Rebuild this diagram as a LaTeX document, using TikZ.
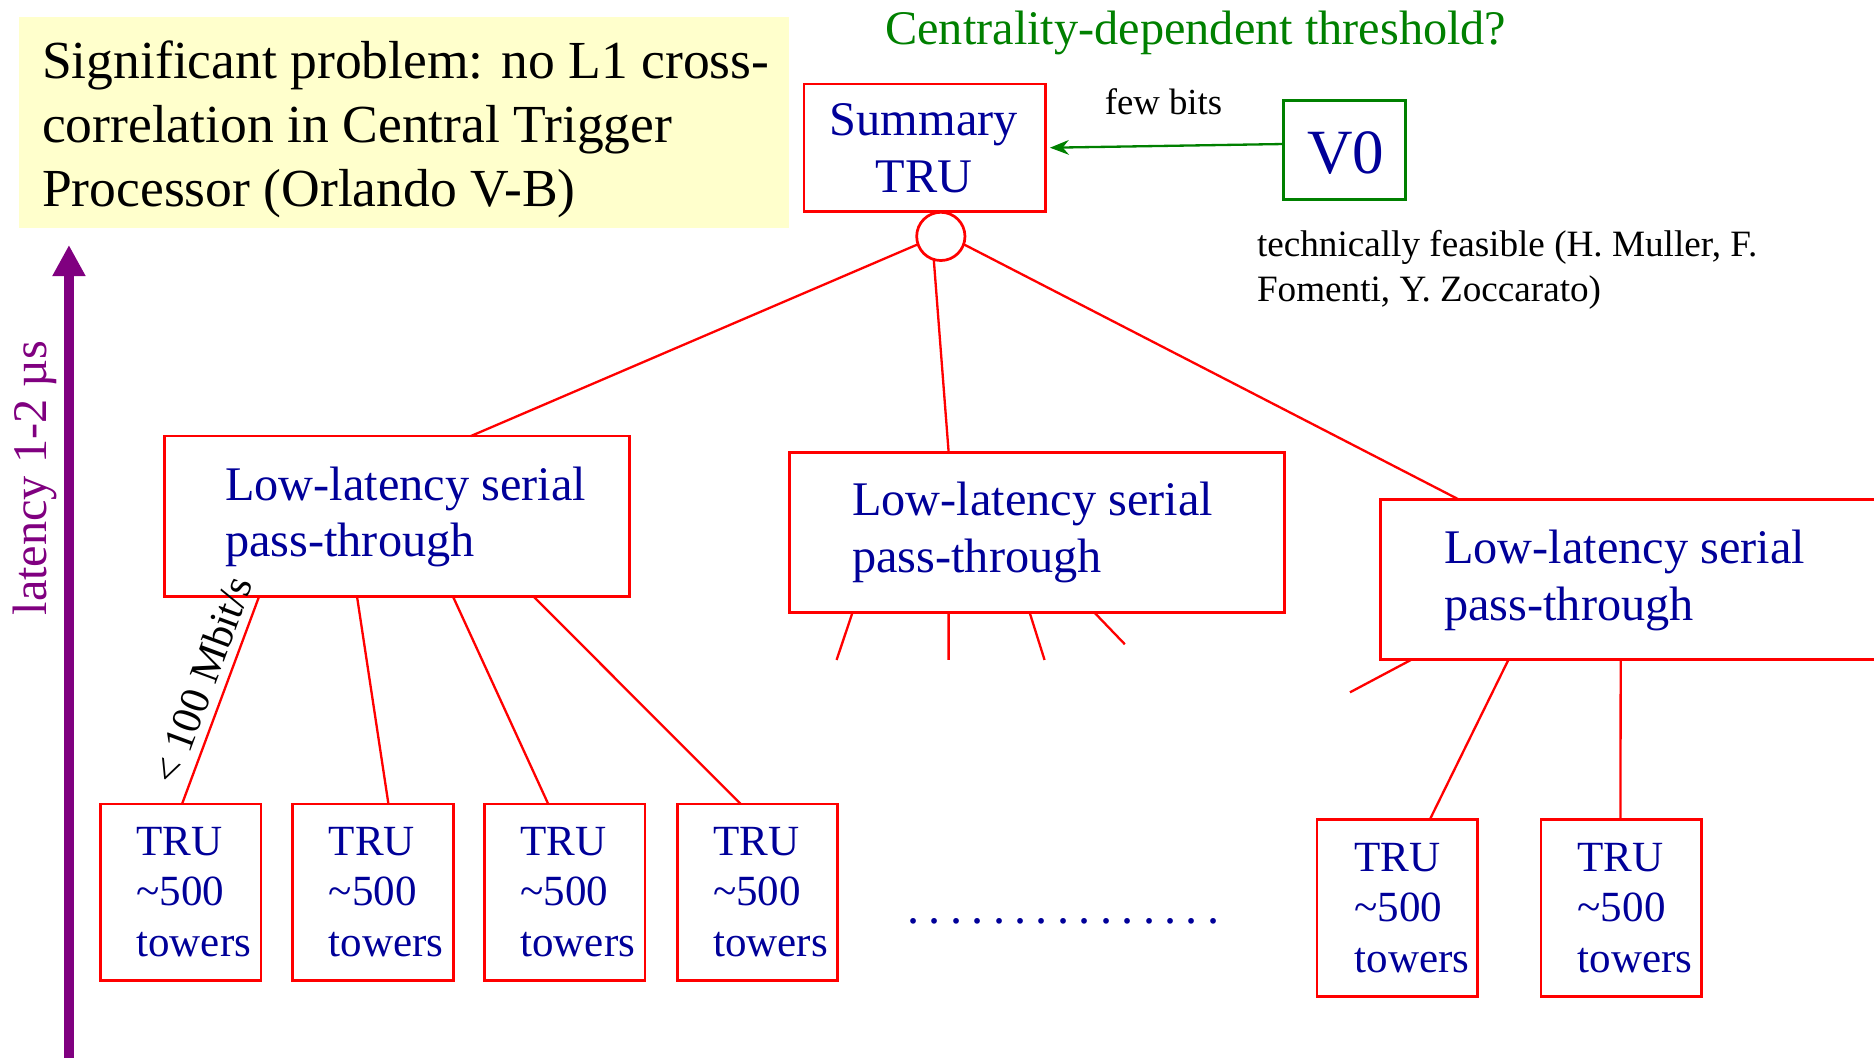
\documentclass[tikz,border=0pt]{standalone}
\usepackage{fontspec}
\setmainfont{Liberation Serif}
\usetikzlibrary{calc,arrows.meta}
\definecolor{navy}{RGB}{0,0,153}
\definecolor{dkgreen}{RGB}{0,128,0}
\definecolor{pred}{RGB}{255,0,0}
\definecolor{ppurple}{RGB}{128,0,128}
\definecolor{pyellow}{RGB}{255,255,204}
\newcommand{\mytl}[1]{\begin{tabular}[t]{@{}l@{}}#1\end{tabular}}
\newcommand{\mytc}[1]{\begin{tabular}[t]{@{}c@{}}#1\end{tabular}}
\tikzset{
  redbox/.style={draw=pred, line width=1.4pt, rectangle, inner sep=0pt, outer sep=0pt},
  trubox/.style={redbox, minimum width=2.688cm, minimum height=2.956cm},
  llbox/.style={redbox, minimum height=2.68cm},
  conn/.style={draw=pred, line width=1.1pt},
  bluetxt/.style={text=navy, inner sep=0pt, anchor=base west},
  lltxt/.style={bluetxt, font=\fontsize{23}{27}\selectfont},
  trutxt/.style={bluetxt, font=\fontsize{20.5}{24.2}\selectfont},
}
\begin{document}
\begin{tikzpicture}[x=0.02cm, y=-0.02cm]
\useasboundingbox (0,0) rectangle (1568,885);

% note box
\node[fill=pyellow, inner sep=0pt, minimum width=12.876cm, minimum height=3.53cm] (note) at (338.1,102.75) {};
\node[anchor=base west, inner sep=0pt, font=\fontsize{25.5}{30.5}\selectfont] (notetxt) at (34.9,65.5)
  {\mytl{Significant problem: no L1 cross-\\correlation in Central Trigger\\Processor (Orlando V-B)}};

% title
\node[anchor=base, inner sep=0pt, text=dkgreen, font=\fontsize{23}{27}\selectfont] (title) at (1000.5,37) {Centrality-dependent threshold?};

% summary TRU
\node[redbox, minimum width=4.046cm, minimum height=2.134cm] (sum) at (773.85,123.65) {};
\node[text=navy, inner sep=0pt, anchor=base, font=\fontsize{23}{27.3}\selectfont] (sumtxt) at (773,113) {\mytc{Summary\\TRU}};
\node[draw=pred, line width=1.3pt, circle, minimum size=0.808cm, inner sep=0pt, outer sep=0pt, fill=white] (hub) at (787.2,197.8) {};

% V0
\node[draw=dkgreen, line width=1.3pt, rectangle, minimum width=2.04cm, minimum height=1.66cm, inner sep=0pt, outer sep=0pt] (v0) at (1125,125.5) {};
\node[text=navy, inner sep=0pt, anchor=base, font=\fontsize{30}{36}\selectfont] (v0txt) at (1126,145) {V0};
\draw[draw=dkgreen, line width=1.1pt, -{Stealth[length=9pt,width=7pt]}, shorten >=2pt] ($(v0.west)+(0,-5)$) -- (sum.east);
\node[anchor=base, inner sep=0pt, font=\fontsize{17.5}{21}\selectfont] (few) at (973.5,96) {few bits};
\node[anchor=base west, inner sep=0pt, font=\fontsize{17.7}{21.4}\selectfont] (feas) at (1051.4,214.8)
  {\mytl{technically feasible (H. Muller, F.\\Fomenti, Y. Zoccarato)}};

% latency arrow
\coordinate (latbot) at (57.7,895);
\coordinate (lattop) at (57.7,205);
\draw[draw=ppurple, line width=4.8pt, -{Triangle[length=14.8pt,width=14.8pt]}] (latbot) -- (lattop);
\node[rotate=90, anchor=base, inner sep=0pt, text=ppurple, font=\fontsize{23}{27}\selectfont] (lat) at (39,400) {latency 1-2 µs};

% low-latency boxes
\node[llbox, minimum width=7.784cm, minimum height=2.688cm] (ll1) at (332.1,432) {};
\node[lltxt] (ll1txt) at (188,418.4) {\mytl{Low-latency serial\\pass-through}};
\node[llbox, minimum width=8.29cm, minimum height=2.676cm] (ll2) at (867.75,445.4) {};
\node[lltxt] (ll2txt) at (712.7,431.7) {\mytl{Low-latency serial\\pass-through}};
\node[llbox, minimum width=8.334cm, minimum height=2.678cm] (ll3) at (1363.65,485.25) {};
\node[lltxt] (ll3txt) at (1208,471.9) {\mytl{Low-latency serial\\pass-through}};

% hub connectors
\draw[conn] (hub.199) -- ($(ll1.north west)+(256.5,0)$);
\draw[conn] (hub.253) -- ($(ll2.north west)+(133.2,0)$);
\draw[conn] (hub.341) -- ($(ll3.north west)+(66,0)$);

% TRU boxes
\node[trubox] (t1) at (151.2,746.6) {};
\node[trubox] (t2) at (312,746.6) {};
\node[trubox] (t3) at (472.5,746.6) {};
\node[trubox] (t4) at (633.75,746.6) {};
\node[trubox, minimum height=2.96cm] (t5) at (1169.1,760) {};
\node[trubox, minimum height=2.96cm] (t6) at (1356.55,760) {};
\node[trutxt] (t1txt) at (113.8,715.4) {\mytl{TRU\\\textasciitilde500\\towers}};
\node[trutxt] (t2txt) at (274.9,715.4) {\mytl{TRU\\\textasciitilde500\\towers}};
\node[trutxt] (t3txt) at (435,715.4) {\mytl{TRU\\\textasciitilde500\\towers}};
\node[trutxt] (t4txt) at (596.3,715.4) {\mytl{TRU\\\textasciitilde500\\towers}};
\node[trutxt] (t5txt) at (1133,728.8) {\mytl{TRU\\\textasciitilde500\\towers}};
\node[trutxt] (t6txt) at (1319.7,728.8) {\mytl{TRU\\\textasciitilde500\\towers}};

% LL1 to TRUs
\draw[conn] ($(ll1.south west)+(79.2,0)$) -- node[sloped, pos=0.443, anchor=south, inner xsep=0pt, inner ysep=4pt, font=\fontsize{20}{24}\selectfont] (rate) {< 100 Mbit/s} ($(t1.north west)+(68.3,0)$);
\draw[conn] ($(ll1.south west)+(161.2,0)$) -- ($(t2.north west)+(80.2,0)$);
\draw[conn] ($(ll1.south west)+(241.5,0)$) -- ($(t3.north west)+(53.4,0)$);
\draw[conn] ($(ll1.south west)+(308.9,0)$) -- ($(t4.north west)+(53.2,0)$);

% LL2 stubs
\coordinate (s1) at (700,552.2);
\coordinate (s2) at (793.7,552.2);
\coordinate (s3) at (874,552.2);
\coordinate (s4) at (941.2,539.1);
\draw[conn] ($(ll2.south west)+(52.8,0)$) -- (s1);
\draw[conn] ($(ll2.south west)+(133.2,0)$) -- (s2);
\draw[conn] ($(ll2.south west)+(200.9,0)$) -- (s3);
\draw[conn] ($(ll2.south west)+(254.9,0)$) -- (s4);

% LL3 connectors
\coordinate (s5) at (1129.5,579.3);
\draw[conn] ($(ll3.south west)+(25.2,0)$) -- (s5);
\draw[conn] ($(ll3.south west)+(106.7,0)$) -- ($(t5.north west)+(94.3,0)$);
\draw[conn] ($(ll3.south west)+(200.7,0)$) -- ($(t6.north west)+(66.5,0)$);

% dots
\node[anchor=base west, inner sep=0pt, text=navy, font=\fontsize{23}{27}\selectfont] (dots) at (755,773)
  {\makebox[10.2pt]{.}\makebox[10.2pt]{.}\makebox[10.2pt]{.}\makebox[10.2pt]{.}\makebox[10.2pt]{.}\makebox[10.2pt]{.}\makebox[10.2pt]{.}\makebox[10.2pt]{.}\makebox[10.2pt]{.}\makebox[10.2pt]{.}\makebox[10.2pt]{.}\makebox[10.2pt]{.}\makebox[10.2pt]{.}\makebox[10.2pt]{.}\makebox[10.2pt]{.}};
\end{tikzpicture}
\end{document}
